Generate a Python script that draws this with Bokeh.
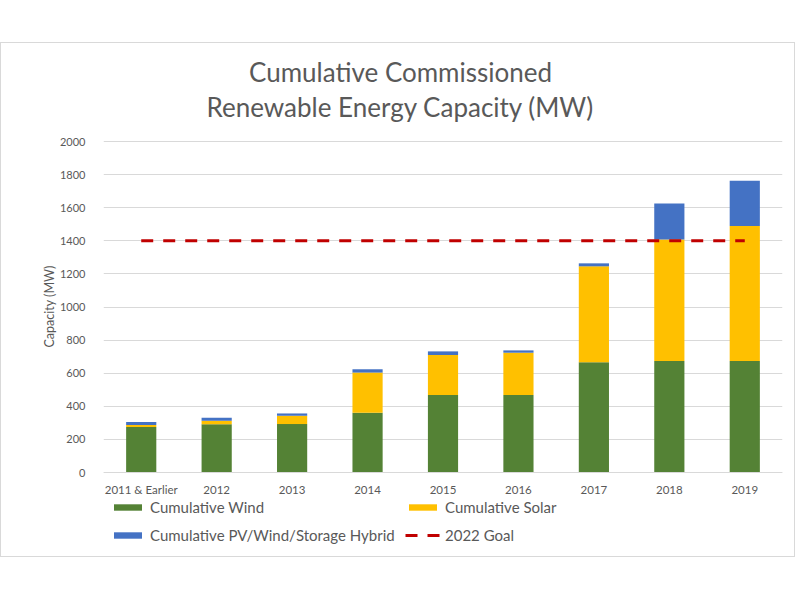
from bokeh.plotting import figure
from bokeh.models import (ColumnDataSource, FactorRange, Range1d, FixedTicker,
                          Legend, LegendItem, Title, Label)
from bokeh.embed import file_html
from bokeh.resources import INLINE

categories = ["2011 & Earlier", "2012", "2013", "2014", "2015", "2016", "2017", "2018", "2019"]
wind = [275, 291, 293, 361, 469, 469, 666, 674, 674]
solar = [12, 22, 50, 243, 241, 255, 580, 734, 816]
hybrid = [18, 18, 14, 20, 22, 14, 18, 217, 273]
goal = [1400, 1400, 1400, 1400, 1400, 1400, 1400, 1400, 1400]
y_ticks = [0, 200, 400, 600, 800, 1000, 1200, 1400, 1600, 1800, 2000]

series_names = ["Cumulative Wind", "Cumulative Solar", "Cumulative PV/Wind/Storage Hybrid"]
series_colors = ["#548235", "#FFC000", "#4472C4"]
title_lines = ["Cumulative Commissioned", "Renewable Energy Capacity (MW)"]

FONT = "Lato"
TXT = "#595959"
GRID = "#D9D9D9"

source = ColumnDataSource(dict(cat=categories, wind=wind, solar=solar, hybrid=hybrid, goal=goal))

# the y range extends beyond 0..2000 so that the title (above) and the legend rows
# (below the category axis) sit inside the frame; ticks and grid stay on 0..2000
p = figure(x_range=FactorRange(*categories), y_range=Range1d(-459, 2544),
           width=793, height=513, output_backend="svg", toolbar_location=None,
           min_border_left=102, min_border_right=12, min_border_top=8, min_border_bottom=8)
p.styles = {"margin-top": "43px", "margin-left": "1px", "outline": "1px solid #D9D9D9"}

# title lines, centred on the page
for txt, ypos in zip(title_lines, [2423, 2211]):
    p.add_layout(Label(x=3.937, y=ypos, text=txt, text_align="center", text_baseline="middle",
                       text_font=FONT, text_font_size="26px", text_color=TXT))

bars = p.vbar_stack(["wind", "solar", "hybrid"], x="cat", width=0.4, color=series_colors,
                    line_color=None, source=source)
goal_r = p.line(x="cat", y="goal", source=source, line_color="#C00000", line_width=3,
                line_dash="12 10")

p.outline_line_color = None
p.xgrid.grid_line_color = None
p.ygrid.grid_line_color = GRID
p.ygrid.grid_line_width = 1

p.yaxis.ticker = FixedTicker(ticks=y_ticks)
p.yaxis.axis_line_color = None
p.yaxis.major_tick_line_color = None
p.yaxis.minor_tick_line_color = None
p.yaxis.major_label_text_font = FONT
p.yaxis.major_label_text_font_size = "11px"
p.yaxis.major_label_text_color = TXT
p.yaxis.major_label_standoff = 12

ylab = Title(text="Capacity (MW)", align="left", offset=201, standoff=0,
             text_font=FONT, text_font_size="12.5px", text_font_style="normal", text_color=TXT)
p.add_layout(ylab, "left")

p.xaxis.fixed_location = 0
p.xaxis.axis_line_color = GRID
p.xaxis.major_tick_line_color = None
p.xaxis.minor_tick_line_color = None
p.xaxis.major_label_text_font = FONT
p.xaxis.major_label_text_font_size = "11.5px"
p.xaxis.major_label_text_color = TXT
p.xaxis.major_label_standoff = 4


def make_legend(items, loc):
    lg = Legend(items=items, location=loc, orientation="horizontal")
    lg.label_text_font = FONT
    lg.label_text_font_size = "15px"
    lg.label_text_color = TXT
    lg.glyph_width = 35
    lg.glyph_height = 8
    lg.label_height = 18
    lg.label_width = 255
    lg.label_standoff = 5
    lg.spacing = 0
    lg.padding = 0
    lg.margin = 0
    lg.border_line_color = None
    lg.background_fill_alpha = 0
    return lg


legend1 = make_legend([LegendItem(label=series_names[0], renderers=[bars[0]]),
                       LegendItem(label=series_names[1], renderers=[bars[1]])], (7, 32))
legend2 = make_legend([LegendItem(label=series_names[2], renderers=[bars[2]]),
                       LegendItem(label="2022 Goal", renderers=[goal_r])], (7, 4))
p.add_layout(legend1, "center")
p.add_layout(legend2, "center")

open("out.html", "w").write(file_html(p, INLINE))
